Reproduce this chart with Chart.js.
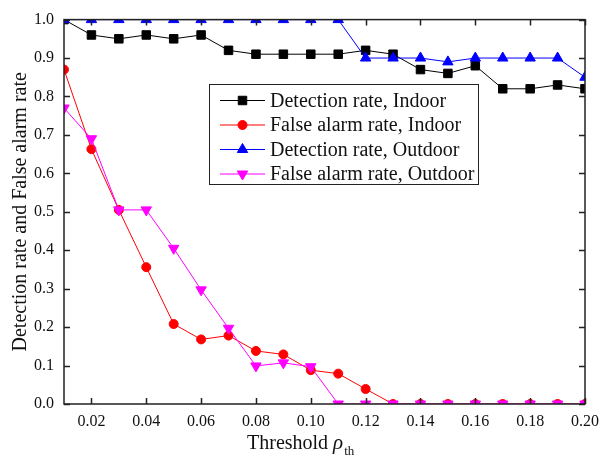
<!DOCTYPE html>
<html>
<head>
<meta charset="utf-8">
<script src="https://cdn.jsdelivr.net/npm/chart.js@4.4.1/dist/chart.umd.min.js"></script>
<style>
  html, body { margin: 0; padding: 0; background: #fff; }
  #wrap { width: 599px; height: 459px; }
</style>
</head>
<body>
<div id="wrap"><canvas id="chart" width="599" height="459"></canvas></div>
<script>
// --- Data ---
const thresholds = [0.01, 0.02, 0.03, 0.04, 0.05, 0.06, 0.07, 0.08, 0.09, 0.10,
                    0.11, 0.12, 0.13, 0.14, 0.15, 0.16, 0.17, 0.18, 0.19, 0.20];
const detIndoor  = [1.00, 0.96, 0.95, 0.96, 0.95, 0.96, 0.92, 0.91, 0.91, 0.91,
                    0.91, 0.92, 0.91, 0.87, 0.86, 0.88, 0.82, 0.82, 0.83, 0.82];
const faIndoor   = [0.87, 0.663, 0.505, 0.356, 0.208, 0.168, 0.178, 0.138, 0.129, 0.088,
                    0.079, 0.039, 0, 0, 0, 0, 0, 0, 0, 0];
const detOutdoor = [1.00, 1.00, 1.00, 1.00, 1.00, 1.00, 1.00, 1.00, 1.00, 1.00,
                    1.00, 0.90, 0.90, 0.90, 0.89, 0.90, 0.90, 0.90, 0.90, 0.85];
const faOutdoor  = [0.77, 0.69, 0.505, 0.505, 0.405, 0.297, 0.197, 0.099, 0.107, 0.097,
                    0, 0, 0, 0, 0, 0, 0, 0, 0, 0];
const seriesNames = ["Detection rate, Indoor", "False alarm rate, Indoor",
                     "Detection rate, Outdoor", "False alarm rate, Outdoor"];
const xTicks = [0.02, 0.04, 0.06, 0.08, 0.10, 0.12, 0.14, 0.16, 0.18, 0.20];
const yTicks = [0.0, 0.1, 0.2, 0.3, 0.4, 0.5, 0.6, 0.7, 0.8, 0.9, 1.0];

const SERIF = "'Liberation Serif', 'Times New Roman', serif";
const toPts = (ys) => thresholds.map((x, i) => ({ x, y: ys[i] }));

const mk = (label, ys, color, style, radius, rotation, order) => ({
  label,
  data: toPts(ys),
  borderColor: color,
  backgroundColor: color,
  borderWidth: 1,
  pointStyle: style,
  pointRadius: radius,
  pointRotation: rotation,
  pointBorderWidth: 1,
  pointHoverRadius: radius,
  tension: 0,
  order,
});

const datasets = [
  mk(seriesNames[0], detIndoor,  "#000000", "rect",     6,   0,   4),
  mk(seriesNames[1], faIndoor,   "#ff0000", "circle",   4.5, 0,   3),
  mk(seriesNames[2], detOutdoor, "#0000ff", "triangle", 6,   0,   2),
  mk(seriesNames[3], faOutdoor,  "#ff00ff", "triangle", 6,   180, 1),
];

// --- Frame + inward ticks on all four sides ---
const framePlugin = {
  id: "frame",
  afterDatasetsDraw(chart) {
    const { ctx, chartArea: a, scales: { x, y } } = chart;
    const len = 6;
    ctx.save();
    ctx.strokeStyle = "#222";
    ctx.lineWidth = 1.5;
    ctx.strokeRect(a.left, a.top, a.right - a.left, a.bottom - a.top);
    ctx.beginPath();
    xTicks.forEach(v => {
      const px = Math.round(x.getPixelForValue(v)) + 0.5;
      ctx.moveTo(px, a.bottom); ctx.lineTo(px, a.bottom - len);
      ctx.moveTo(px, a.top);    ctx.lineTo(px, a.top + len);
    });
    yTicks.forEach(v => {
      const py = Math.round(y.getPixelForValue(v)) + 0.5;
      ctx.moveTo(a.left, py);  ctx.lineTo(a.left + len, py);
      ctx.moveTo(a.right, py); ctx.lineTo(a.right - len, py);
    });
    ctx.stroke();
    ctx.restore();
  },
};

// --- Boxed legend inside the plot + x-axis title with subscript ---
const legendPlugin = {
  id: "boxLegend",
  afterDraw(chart) {
    const { ctx } = chart;
    const box = { x: 209, y: 84, w: 269, h: 100 };
    ctx.save();
    ctx.fillStyle = "#fff";
    ctx.fillRect(box.x, box.y, box.w, box.h);
    ctx.strokeStyle = "#222";
    ctx.lineWidth = 1;
    ctx.strokeRect(box.x + 0.5, box.y + 0.5, box.w, box.h);

    chart.data.datasets.forEach((ds, i) => {
      const yy = 100.5 + i * 24.5;
      ctx.strokeStyle = ds.borderColor;
      ctx.lineWidth = 1;
      ctx.beginPath();
      ctx.moveTo(220, yy); ctx.lineTo(265, yy);
      ctx.stroke();
      ctx.fillStyle = ds.backgroundColor;
      Chart.helpers.drawPoint(ctx, {
        pointStyle: ds.pointStyle, radius: ds.pointRadius,
        rotation: ds.pointRotation, borderWidth: 1,
      }, 242.5, yy);
      ctx.fillStyle = "#111";
      ctx.font = "20px " + SERIF;
      ctx.textBaseline = "middle";
      ctx.textAlign = "left";
      ctx.fillText(ds.label, 270, yy + 1);
    });

    // x title: Threshold ρ_th
    ctx.fillStyle = "#111";
    ctx.textBaseline = "alphabetic";
    let tx = 247;
    ctx.font = "20px " + SERIF;
    ctx.fillText("Threshold ", tx, 449);
    tx += ctx.measureText("Threshold ").width;
    ctx.font = "italic 21px " + SERIF;
    ctx.fillText("ρ", tx, 449);
    tx += ctx.measureText("ρ").width + 1;
    ctx.font = "13px " + SERIF;
    ctx.fillText("th", tx, 455);
    ctx.restore();
  },
};

new Chart(document.getElementById("chart"), {
  type: "line",
  data: { datasets },
  options: {
    responsive: false,
    animation: false,
    devicePixelRatio: 1,
    layout: { padding: { top: 17, right: 14, left: 0, bottom: 0 } },
    plugins: { legend: { display: false }, tooltip: { enabled: false } },
    scales: {
      x: {
        type: "linear",
        min: 0.01,
        max: 0.20,
        afterBuildTicks: (s) => { s.ticks = xTicks.map(v => ({ value: v })); },
        afterFit: (s) => { s.height = 55; s.paddingLeft = 0; s.paddingRight = 0; },
        grid: { display: false, drawTicks: false },
        border: { display: false },
        ticks: {
          color: "#111",
          padding: 8,
          maxRotation: 0,
          autoSkip: false,
          font: { family: SERIF, size: 16 },
          callback: (v) => Number(v).toFixed(2),
        },
      },
      y: {
        min: 0,
        max: 1,
        afterBuildTicks: (s) => { s.ticks = yTicks.map(v => ({ value: v })); },
        afterFit: (s) => { s.width = 64; },
        grid: { display: false, drawTicks: false },
        border: { display: false },
        title: {
          display: true,
          text: "Detection rate and False alarm rate",
          color: "#111",
          font: { family: SERIF, size: 20 },
          padding: { top: 9, bottom: 0 },
        },
        ticks: {
          color: "#111",
          padding: 10,
          autoSkip: false,
          font: { family: SERIF, size: 16 },
          callback: (v) => Number(v).toFixed(1),
        },
      },
    },
  },
  plugins: [framePlugin, legendPlugin],
});
</script>
</body>
</html>
